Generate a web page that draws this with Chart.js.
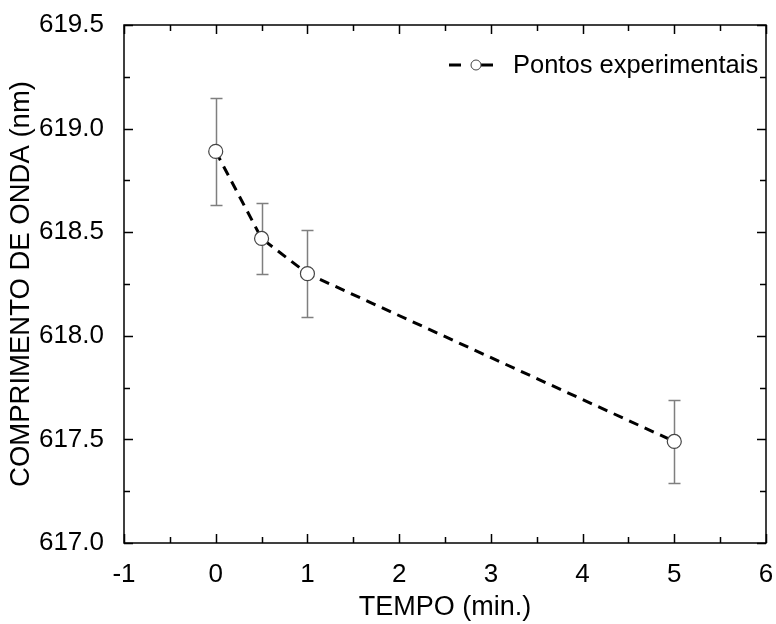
<!DOCTYPE html>
<html>
<head>
<meta charset="utf-8">
<script src="https://cdn.jsdelivr.net/npm/chart.js@4.4.1/dist/chart.umd.min.js"></script>
<style>
  html, body { margin: 0; padding: 0; background: #fff; }
  #wrap { width: 776px; height: 624px; }
</style>
</head>
<body>
<div id="wrap"><canvas id="grafico" width="776" height="624"></canvas></div>
<script>
// dados
const tempo = [0, 0.5, 1, 5];
const comprimento = [618.89, 618.47, 618.30, 617.49];
const erro = [0.26, 0.17, 0.21, 0.20];
const xTicks = [-1, 0, 1, 2, 3, 4, 5, 6];
const yTicks = [617.0, 617.5, 618.0, 618.5, 619.0, 619.5];
const nomeSerie = 'Pontos experimentais';

const fonte = "'Liberation Sans', Arial, sans-serif";

const pontos = tempo.map((t, i) => ({ x: t, y: comprimento[i] }));

// barras de erro desenhadas pelas escalas do chart
const pluginErro = {
  id: 'barrasErro',
  beforeDatasetsDraw(chart) {
    const ctx = chart.ctx;
    const sx = chart.scales.x, sy = chart.scales.y;
    ctx.save();
    ctx.strokeStyle = '#7f7f7f';
    ctx.lineWidth = 1.5;
    tempo.forEach((t, i) => {
      const px = Math.round(sx.getPixelForValue(t)) + 0.5;
      const top = Math.round(sy.getPixelForValue(comprimento[i] + erro[i])) + 0.5;
      const bot = Math.round(sy.getPixelForValue(comprimento[i] - erro[i])) + 0.5;
      ctx.beginPath();
      ctx.moveTo(px, top); ctx.lineTo(px, bot);
      ctx.moveTo(px - 6, top); ctx.lineTo(px + 6, top);
      ctx.moveTo(px - 6, bot); ctx.lineTo(px + 6, bot);
      ctx.stroke();
    });
    ctx.restore();
  }
};

// moldura, ticks para dentro e legenda
const pluginMoldura = {
  id: 'moldura',
  afterDraw(chart) {
    const ctx = chart.ctx;
    const a = chart.chartArea;
    const sx = chart.scales.x, sy = chart.scales.y;
    ctx.save();
    ctx.strokeStyle = '#000';
    ctx.lineWidth = 1.5;
    ctx.strokeRect(a.left, a.top, a.right - a.left, a.bottom - a.top);
    ctx.beginPath();
    for (let v = xTicks[0]; v <= xTicks[xTicks.length - 1] + 1e-9; v += 0.5) {
      const px = Math.round(sx.getPixelForValue(v)) + 0.5;
      const len = Math.abs(v - Math.round(v)) < 1e-9 ? 9 : 6;
      ctx.moveTo(px, a.bottom); ctx.lineTo(px, a.bottom - len);
      ctx.moveTo(px, a.top); ctx.lineTo(px, a.top + len);
    }
    for (let v = yTicks[0]; v <= yTicks[yTicks.length - 1] + 1e-9; v += 0.25) {
      const py = Math.round(sy.getPixelForValue(v)) + 0.5;
      const major = Math.abs(v * 2 - Math.round(v * 2)) < 1e-9;
      const len = major ? 9 : 6;
      ctx.moveTo(a.left, py); ctx.lineTo(a.left + len, py);
      ctx.moveTo(a.right, py); ctx.lineTo(a.right - len, py);
    }
    ctx.stroke();

    // legenda
    const ly = 65;
    ctx.strokeStyle = '#000';
    ctx.lineWidth = 3;
    ctx.beginPath();
    ctx.moveTo(449, ly); ctx.lineTo(461, ly);
    ctx.moveTo(481, ly); ctx.lineTo(493, ly);
    ctx.stroke();
    ctx.beginPath();
    ctx.arc(476, ly, 5, 0, Math.PI * 2);
    ctx.fillStyle = '#fff';
    ctx.fill();
    ctx.lineWidth = 1;
    ctx.strokeStyle = '#444';
    ctx.stroke();
    ctx.fillStyle = '#000';
    ctx.font = '25.5px ' + fonte;
    ctx.textBaseline = 'middle';
    ctx.textAlign = 'left';
    ctx.fillText(nomeSerie, 513, ly + 1);
    ctx.restore();
  }
};

new Chart(document.getElementById('grafico'), {
  type: 'line',
  data: {
    datasets: [{
      label: nomeSerie,
      data: pontos,
      borderColor: '#000',
      borderWidth: 3,
      borderDash: [10, 7],
      fill: false,
      tension: 0,
      pointRadius: 7,
      pointBackgroundColor: '#fff',
      pointBorderColor: '#444',
      pointBorderWidth: 1.2,
    }],
  },
  options: {
    responsive: false,
    animation: false,
    layout: { padding: { top: 0, right: 10, left: 5, bottom: 0 } },
    plugins: { legend: { display: false }, tooltip: { enabled: false } },
    scales: {
      x: {
        type: 'linear',
        min: -1, max: 6,
        grid: { display: false },
        border: { display: false },
        afterBuildTicks: (s) => { s.ticks = xTicks.map(v => ({ value: v })); },
        afterFit: (s) => { s.height = 81; s.paddingRight = 0; s.paddingLeft = 0; },
        ticks: {
          color: '#000',
          padding: 8,
          font: { family: fonte, size: 26 },
          maxRotation: 0,
          callback: (v) => String(v),
        },
        title: {
          display: true, text: 'TEMPO (min.)', color: '#000',
          font: { family: fonte, size: 27 },
          padding: { top: 0, bottom: 0 },
        },
      },
      y: {
        type: 'linear',
        min: 617, max: 619.5,
        grid: { display: false },
        border: { display: false },
        afterBuildTicks: (s) => { s.ticks = yTicks.map(v => ({ value: v })); },
        afterFit: (s) => { s.width = 119; },
        ticks: {
          color: '#000',
          padding: 12,
          font: { family: fonte, size: 26, lineHeight: 1 },
          callback: (v) => Number(v).toFixed(1),
        },
        title: {
          display: true, text: 'COMPRIMENTO DE ONDA (nm)', color: '#000',
          font: { family: fonte, size: 27.5 },
          padding: { top: 0, bottom: 0 },
        },
      },
    },
  },
  plugins: [pluginErro, pluginMoldura],
});
</script>
</body>
</html>
